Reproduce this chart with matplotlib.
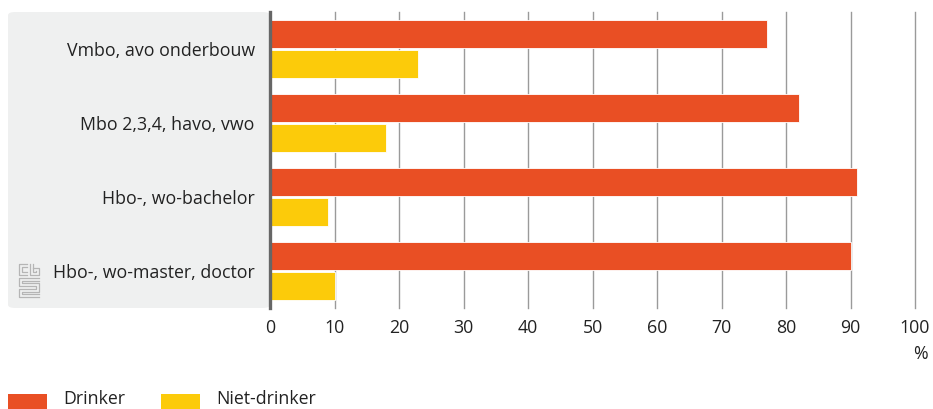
import matplotlib
matplotlib.use("Agg")
import matplotlib.pyplot as plt
from matplotlib.patches import FancyBboxPatch, Rectangle
import numpy as np

categories = ["Vmbo, avo onderbouw", "Mbo 2,3,4, havo, vwo", "Hbo-, wo-bachelor", "Hbo-, wo-master, doctor"]
drinker = [77, 82, 91, 90]
niet_drinker = [23, 18, 9, 10]
series_names = ["Drinker", "Niet-drinker"]
xticks = [0, 10, 20, 30, 40, 50, 60, 70, 80, 90, 100]

ORANGE = "#e94f24"
YELLOW = "#fccb0a"
TEXT = "#222222"
FS = 12.8
plt.rcParams['font.family'] = ['Open Sans', 'DejaVu Sans']

W, H = 933, 409
fig = plt.figure(figsize=(W / 100, H / 100), dpi=100)

def fx(px):
    return px / W

def fy(py):
    return 1 - py / H

# grey label panel
panel = FancyBboxPatch((fx(8), fy(308)), fx(270) - fx(8), fy(12) - fy(308),
                       boxstyle="round,pad=0,rounding_size=0.008",
                       transform=fig.transFigure, facecolor="#eff0f0", edgecolor="none", zorder=-5)
fig.patches.append(panel)

ax = fig.add_axes([fx(270), fy(308), fx(915) - fx(270), fy(12) - fy(308)])
ax.set_zorder(2)
ax.patch.set_alpha(0)

y = np.arange(len(categories))
h = 0.38
ax.barh(y - 0.2, drinker, height=h, color=ORANGE, edgecolor="white", linewidth=0.6, zorder=3, label=series_names[0])
ax.barh(y + 0.2, niet_drinker, height=h, color=YELLOW, edgecolor="white", linewidth=0.6, zorder=3, label=series_names[1])

ax.set_xlim(0, 100)
ax.set_ylim(len(categories) - 0.5, -0.5)
ax.set_xticks(xticks)
ax.set_xticklabels([str(t) for t in xticks], fontsize=FS, color=TEXT)
ax.tick_params(axis="x", length=0, pad=8)
ax.set_yticks(y)
ax.set_yticklabels(categories, fontsize=FS, color=TEXT)
ax.tick_params(axis="y", length=0, pad=11)
for t in xticks[1:]:
    ax.axvline(t, color="#9a9a9a", linewidth=1.0, zorder=1, clip_on=False)
for s in ax.spines.values():
    s.set_visible(False)
ax.axvline(0, color="#666666", linewidth=2.4, zorder=4, clip_on=False)

fig.text(fx(928), fy(354), "%", fontsize=FS, color=TEXT, ha="right", va="center")

# legend
fig.patches.append(Rectangle((fx(8), fy(409)), fx(47) - fx(8), fy(394) - fy(409),
                             transform=fig.transFigure, facecolor=ORANGE, edgecolor="none"))
fig.text(fx(63), fy(399), series_names[0], fontsize=FS, color=TEXT, ha="left", va="center")
fig.patches.append(Rectangle((fx(161), fy(409)), fx(200) - fx(161), fy(394) - fy(409),
                             transform=fig.transFigure, facecolor=YELLOW, edgecolor="none"))
fig.text(fx(216), fy(399), series_names[1], fontsize=FS, color=TEXT, ha="left", va="center")

# cbs logo approximation
lc = "#b5b5b5"
def seg(pts):
    xs = [fx(p[0]) for p in pts]
    ys = [fy(p[1]) for p in pts]
    fig.add_artist(plt.Line2D(xs, ys, transform=fig.transFigure, color=lc, linewidth=0.9))
seg([(27, 264), (19, 264), (19, 275), (27, 275)])
seg([(27, 267), (22, 267), (22, 272), (27, 272)])
seg([(30, 264), (30, 275), (39, 275), (39, 268), (33, 268)])
seg([(33, 264), (33, 272), (36, 272), (36, 271)])
seg([(39, 278), (19, 278), (19, 286), (36, 286), (36, 289), (19, 289), (19, 297), (39, 297)])
seg([(39, 281), (22, 281), (22, 283), (39, 283), (39, 292), (22, 292), (22, 294), (39, 294)])

fig.savefig("out.png", dpi=100)
